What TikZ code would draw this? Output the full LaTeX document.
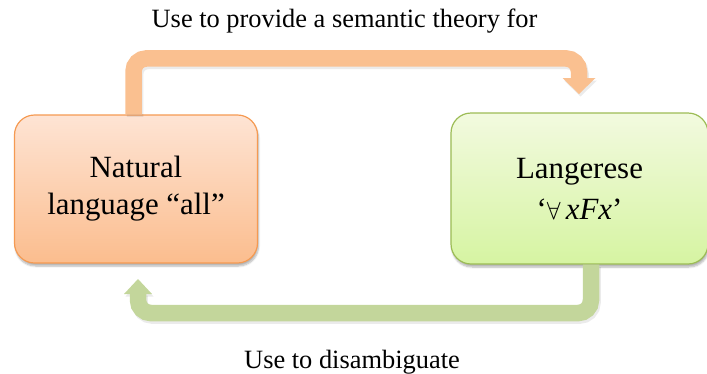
\documentclass[tikz,border=0pt]{standalone}
\usepackage{fontspec}
\setmainfont{Liberation Serif}
\usetikzlibrary{shadows.blur}
\definecolor{orgTop}{HTML}{FEE4D4}
\definecolor{orgBot}{HTML}{FBBD8E}
\definecolor{orgLine}{HTML}{F59A52}
\definecolor{grnTop}{HTML}{F2FADF}
\definecolor{grnBot}{HTML}{D6F4A2}
\definecolor{grnLine}{HTML}{9CBC55}
\definecolor{orgArrow}{HTML}{FAC090}
\definecolor{grnArrow}{HTML}{C3D69B}
\tikzset{
  boxnode/.style={rounded corners=20bp, line width=1.2bp, align=center,
    font=\fontsize{31}{37}\selectfont, inner sep=0pt,
    blur shadow={shadow xshift=1bp, shadow yshift=-3bp, shadow blur steps=6, shadow opacity=30}},
  labeltext/.style={font=\fontsize{26.5}{30}\selectfont, inner sep=0pt, anchor=base},
  bigarrow/.style={line width=16.5bp, rounded corners=13bp},
  shadowline/.style={bigarrow, draw=black, draw opacity=0.08, transform canvas={xshift=1.5bp,yshift=-2.5bp}},
  shadowhead/.style={fill=black, fill opacity=0.08, transform canvas={xshift=1.5bp,yshift=-2.5bp}}
}
\begin{document}
\begin{tikzpicture}[x=1bp,y=-1bp]
\useasboundingbox (0,0) rectangle (707,373);
% boxes
\node[boxnode, draw=orgLine, top color=orgTop, bottom color=orgBot,
      minimum width=243bp, minimum height=148bp] (L) at (136,189) {Natural\\language “all”};
\node[boxnode, draw=grnLine, top color=grnTop, bottom color=grnBot,
      minimum width=257bp, minimum height=151bp] (R) at (579.5,188.5) {Langerese\\[4bp]‘$\forall$\,\textit{xFx}’};
% arrow coordinates
\coordinate (a0) at ([shift={(-2.5,0)}]L.north);
\coordinate (a1) at (579,94);
\coordinate (a2) at (579,79);
\coordinate (b0) at ([shift={(11.5,0)}]R.south);
\coordinate (b1) at (138,279);
\coordinate (b2) at (138,293);
% shadows of arrows
\draw[shadowline] (a0) -- ++(0,-56) -| (a2);
\fill[shadowhead] ([shift={(-16.5,-16)}]a1) -- ([shift={(16.5,-16)}]a1) -- (a1) -- cycle;
\draw[shadowline] (b0) -- ++(0,48.5) -| (b2);
\fill[shadowhead] ([shift={(-14,15)}]b1) -- ([shift={(14,15)}]b1) -- (b1) -- cycle;
% arrows
\draw[bigarrow, draw=orgArrow] (a0) -- ++(0,-56) -| (a2);
\fill[orgArrow] ([shift={(-16.5,-16)}]a1) -- ([shift={(16.5,-16)}]a1) -- (a1) -- cycle;
\draw[bigarrow, draw=grnArrow] (b0) -- ++(0,48.5) -| (b2);
\fill[grnArrow] ([shift={(-14,15)}]b1) -- ([shift={(14,15)}]b1) -- (b1) -- cycle;
% labels
\node[labeltext] (t1) at (344.5,27) {Use to provide a semantic theory for};
\node[labeltext] (t2) at (352,368) {Use to disambiguate};
\end{tikzpicture}
\end{document}
